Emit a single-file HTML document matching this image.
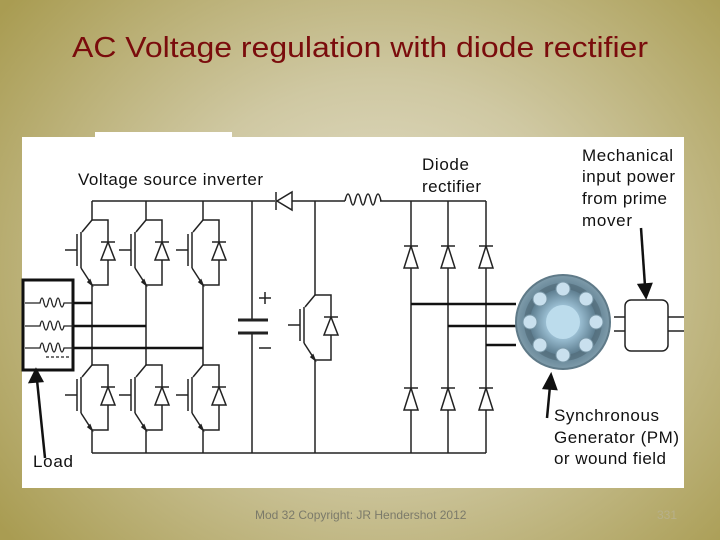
<!DOCTYPE html>
<html><head><meta charset="utf-8"><style>
html,body{margin:0;padding:0}
body{width:720px;height:540px;overflow:hidden;position:relative;font-family:"Liberation Sans",Arial,sans-serif;
background:radial-gradient(ellipse 480px 420px at 380px 270px,#e6e2cf 0%,#cfc8a2 45%,#a99c52 100%);}
</style></head><body>
<svg width="720" height="540" viewBox="0 0 720 540" xmlns="http://www.w3.org/2000/svg" style="position:absolute;left:0;top:0">
<defs>
<g id="sw" stroke="#222" stroke-width="1.5" fill="none">
  <path d="M0,0 L16,0 L16,65 L0,65"/>
  <path d="M0,0 L-10,12"/>
  <path d="M-11,12 L-11,48"/>
  <path d="M-15,14 L-15,46"/>
  <path d="M-27,30 L-15,30"/>
  <path d="M-11,48 L0,65"/>
  <path d="M-4,62 L0,65 L-2,60 Z" fill="#222"/>
  <path d="M9,22 L23,22"/>
  <path d="M16,22 L9,40 L23,40 Z" fill="#fff"/>
</g>
<g id="rd" stroke="#222" stroke-width="1.5" fill="none">
  <path d="M-7,0 L7,0"/>
  <path d="M0,0 L-7,22 L7,22 Z" fill="#fff"/>
</g>
<radialGradient id="gen" cx="50%" cy="50%" r="50%">
  <stop offset="0" stop-color="#cfe6f2"/>
  <stop offset="0.35" stop-color="#9cc0d4"/>
  <stop offset="0.7" stop-color="#5f7f91"/>
  <stop offset="1" stop-color="#7f9cab"/>
</radialGradient>
</defs>

<text x="72" y="57" font-size="29" fill="#7a0c0c" textLength="576" lengthAdjust="spacingAndGlyphs">AC Voltage regulation with diode rectifier</text>

<rect x="22" y="137" width="662" height="351" fill="#fff"/>
<rect x="95" y="132" width="137" height="8" fill="#fff"/>

<g stroke="#222" stroke-width="1.5" fill="none">
  <path d="M92,201 L275,201"/>
  <path d="M292,201 L345,201"/>
  <path d="M380,201 L486,201"/>
  <path d="M92,453 L486,453"/>
  <path d="M92,201 L92,220 M92,285 L92,365 M92,430 L92,453"/>
  <path d="M146,201 L146,220 M146,285 L146,365 M146,430 L146,453"/>
  <path d="M203,201 L203,220 M203,285 L203,365 M203,430 L203,453"/>
  <path d="M252,201 L252,320 M252,333 L252,453"/>
  <path d="M315,201 L315,295 M315,360 L315,453"/>
  <path d="M411,201 L411,453 M448,201 L448,453 M486,201 L486,453"/>
  <path d="M345,201 q3,-14 6,0 q2,8 4,0 q3,-14 6,0 q2,8 4,0 q3,-14 6,0 q2,8 4,0 q3,-14 6,0"/>
</g>
<g stroke="#222" stroke-width="1.5" fill="#fff">
  <path d="M292,192 L292,210 L277,201 Z"/>
  <path d="M276,192 L276,210"/>
</g>
<g stroke="#222" stroke-width="3">
  <path d="M238,320 L268,320 M238,333 L268,333"/>
</g>
<g stroke="#222" stroke-width="1.5">
  <path d="M259,298 L271,298 M265,292 L265,304 M259,348 L271,348"/>
</g>

<use href="#sw" x="92" y="220"/>
<use href="#sw" x="146" y="220"/>
<use href="#sw" x="203" y="220"/>
<use href="#sw" x="92" y="365"/>
<use href="#sw" x="146" y="365"/>
<use href="#sw" x="203" y="365"/>
<use href="#sw" x="315" y="295"/>

<use href="#rd" x="411" y="246"/>
<use href="#rd" x="448" y="246"/>
<use href="#rd" x="486" y="246"/>
<use href="#rd" x="411" y="388"/>
<use href="#rd" x="448" y="388"/>
<use href="#rd" x="486" y="388"/>

<g stroke="#111" stroke-width="2.5">
  <path d="M73,303 L92,303 M73,326 L146,326 M73,348 L203,348"/>
  <path d="M411,304 L516,304 M448,326 L516,326 M486,345 L516,345"/>
</g>
<rect x="23" y="280" width="50" height="90" fill="#fff" stroke="#111" stroke-width="3"/>
<g stroke="#222" stroke-width="1.3" fill="none">
  <path d="M25,303 L40,303 q2,-10 4,0 q2,8 4,0 q2,-10 4,0 q2,8 4,0 q2,-10 4,0 q2,8 4,0 L73,303"/>
  <path d="M25,326 L40,326 q2,-10 4,0 q2,8 4,0 q2,-10 4,0 q2,8 4,0 q2,-10 4,0 q2,8 4,0 L73,326"/>
  <path d="M25,348 L40,348 q2,-10 4,0 q2,8 4,0 q2,-10 4,0 q2,8 4,0 q2,-10 4,0 q2,8 4,0 L73,348"/>
  <path d="M46,357 L70,357" stroke-dasharray="3,2"/>
</g>

<circle cx="563" cy="322" r="47" fill="url(#gen)" stroke="#5f7a88" stroke-width="2"/>
<circle cx="563" cy="322" r="36" fill="none" stroke="#4e6775" stroke-width="6" opacity="0.6"/>
<g fill="#c9e0ee" stroke="#7a98a8" stroke-width="1">
  <circle cx="563" cy="289" r="7"/><circle cx="586" cy="299" r="7"/><circle cx="596" cy="322" r="7"/>
  <circle cx="586" cy="345" r="7"/><circle cx="563" cy="355" r="7"/><circle cx="540" cy="345" r="7"/>
  <circle cx="530" cy="322" r="7"/><circle cx="540" cy="299" r="7"/>
</g>
<circle cx="563" cy="322" r="17" fill="#bcdcec"/>

<g stroke="#222" stroke-width="1.5" fill="none">
  <path d="M614,317 L625,317 M614,331 L625,331 M668,317 L684,317 M668,331 L684,331"/>
  <rect x="625" y="300" width="43" height="51" rx="6" fill="#fff"/>
</g>

<g stroke="#111" stroke-width="2.5" fill="#111">
  <path d="M45,458 L37,380"/>
  <path d="M30,382 L36,370 L42,381 Z"/>
  <path d="M641,228 L645,286"/>
  <path d="M639,285 L646,297 L651,284 Z"/>
  <path d="M547,418 L550,386"/>
  <path d="M544,388 L551,375 L556,389 Z"/>
</g>

<g font-size="17" fill="#111" lengthAdjust="spacingAndGlyphs">
  <text x="78" y="185" textLength="185">Voltage source inverter</text>
  <text x="422" y="170" textLength="47">Diode</text>
  <text x="422" y="192" textLength="59">rectifier</text>
  <text x="582" y="161" textLength="91">Mechanical</text>
  <text x="582" y="182" textLength="93">input power</text>
  <text x="582" y="204" textLength="85">from prime</text>
  <text x="582" y="226" textLength="50">mover</text>
  <text x="554" y="421" textLength="105">Synchronous</text>
  <text x="554" y="443" textLength="125">Generator (PM)</text>
  <text x="554" y="464" textLength="112">or wound field</text>
  <text x="33" y="467" textLength="40">Load</text>
</g>
<text x="255" y="519" font-size="12" fill="#7b7a6a">Mod 32 Copyright: JR Hendershot 2012</text>
<text x="657" y="519" font-size="12" fill="#b7b08a">331</text>
</svg>
</body></html>
